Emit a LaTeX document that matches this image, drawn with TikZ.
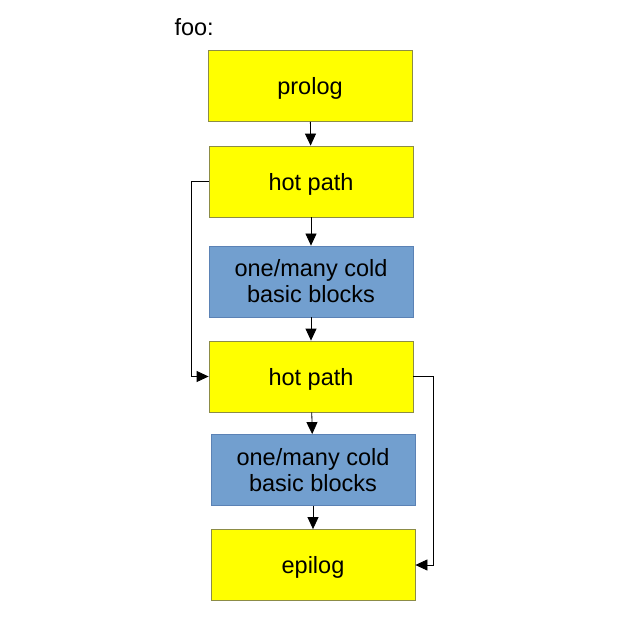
\documentclass[tikz,border=0pt]{standalone}
\usepackage{fontspec}
\setmainfont{Liberation Sans}
\usepackage{xcolor}
\usetikzlibrary{shapes.geometric, arrows, arrows.meta}

\definecolor{hotfill}{HTML}{FFFF00}
\definecolor{hotline}{HTML}{8C8C46}
\definecolor{coldfill}{HTML}{729FCF}
\definecolor{coldline}{HTML}{5B82B5}

\tikzset{
    blk/.style={rectangle, minimum width=204pt, minimum height=71pt, inner sep=0pt,
        font=\fontsize{23.5}{26}\selectfont, align=center, line width=0.8pt},
    hotblk/.style={blk, fill=hotfill, draw=hotline, text depth=0pt},
    coldblk/.style={blk, fill=coldfill, draw=coldline},
    flow/.style={-{Triangle[length=12pt,width=11pt]}, line width=0.8pt}
}

\begin{document}
\begin{tikzpicture}[x=1pt, y=-1pt]
        \useasboundingbox (0,0) rectangle (634,620);

        \node[anchor=west, font=\fontsize{23.5}{26}\selectfont] (lbl) at (171,27) {foo:};

        \node[hotblk] (prolog) at (310,86) {prolog};
        \node[hotblk] (hotA) at (311,181.5) {hot path};
        \node[coldblk] (coldA) at (311,281.5) {one/many cold\\ basic blocks};
        \node[hotblk] (hotB) at (311,376.5) {hot path};
        \node[coldblk] (coldB) at (313,470) {one/many cold\\ basic blocks};
        \node[hotblk] (epilog) at (313,565) {epilog};

        % straight chain
        \draw[flow] (prolog) -- (hotA);
        \draw[flow] (hotA) -- (coldA);
        \draw[flow] (coldA) -- (hotB);
        \draw[flow] (hotB) -- (coldB);
        \draw[flow] (coldB) -- (epilog);

        % hotA -> hotB
        \coordinate (jl) at (191,0);
        \draw[flow] (hotA.west) -- (hotA.west -| jl) -- (hotB.west -| jl) -- (hotB.west);

        % hotB -> epilog
        \coordinate (jr) at (433,0);
        \draw[flow] (hotB.east) -- (hotB.east -| jr) -- (epilog.east -| jr) -- (epilog.east);
    \end{tikzpicture}
\end{document}
